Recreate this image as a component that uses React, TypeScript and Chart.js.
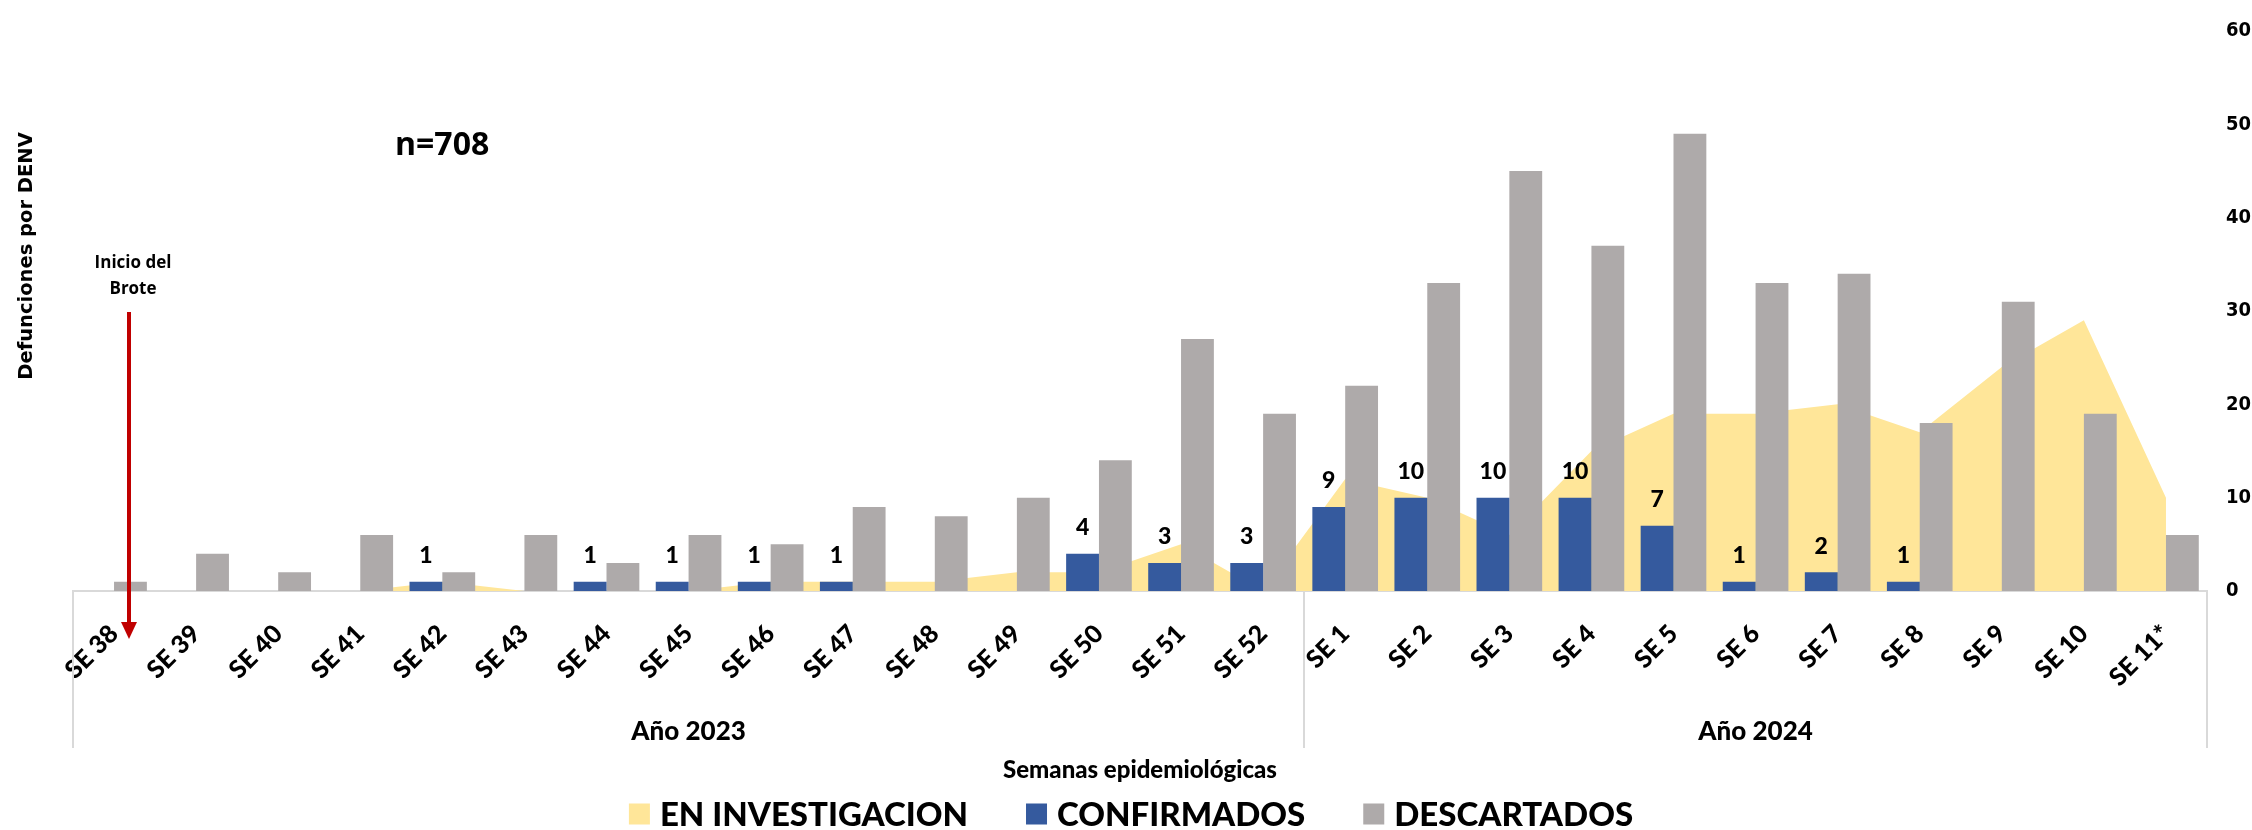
import React, { useEffect, useRef } from 'react';
import { Chart, registerables } from 'chart.js';

Chart.register(...registerables);

// ---------- data ----------
const categories = [
  'SE 38', 'SE 39', 'SE 40', 'SE 41', 'SE 42', 'SE 43', 'SE 44', 'SE 45', 'SE 46', 'SE 47',
  'SE 48', 'SE 49', 'SE 50', 'SE 51', 'SE 52',
  'SE 1', 'SE 2', 'SE 3', 'SE 4', 'SE 5', 'SE 6', 'SE 7', 'SE 8', 'SE 9', 'SE 10', 'SE 11*',
];
const enInvestigacion = [0, 0, 0, 0, 1, 0, 0, 0, 1, 1, 1, 2, 2, 5, 0, 12, 10, 6, 15, 19, 19, 20, 17, 24, 29, 10];
const confirmados = [null, null, null, null, 1, null, 1, 1, 1, 1, null, null, 4, 3, 3, 9, 10, 10, 10, 7, 1, 2, 1, null, null, null];
const descartados = [1, 4, 2, 6, 2, 6, 3, 6, 5, 9, 8, 10, 14, 27, 19, 22, 33, 45, 37, 49, 33, 34, 18, 31, 19, 6];
const seriesLabels = ['EN INVESTIGACION', 'CONFIRMADOS', 'DESCARTADOS'];
const seriesColors = ['#FFE699', '#355A9E', '#AEAAAA'];
const yMin = 0;
const yMax = 60;
const yStep = 10;
const groupLabels = ['Año 2023', 'Año 2024'];
const groupStarts = [0, 15];
const groupEnds = [14, 25];
const yTitle = 'Defunciones por DENV';
const xTitle = 'Semanas epidemiológicas';
const totalText = 'n=708';
const annotationLines = ['Inicio del', 'Brote'];

// ---------- fonts ----------
const CAL = 'Lato, "DejaVu Sans Condensed", sans-serif';
const CW = '900';
const WIDE = '"DejaVu Sans", Verdana, sans-serif';
const COND = '"DejaVu Sans Condensed", "DejaVu Sans", sans-serif';
const OPEN = '"Open Sans", "Noto Sans", sans-serif';

const overlayPlugin = {
  id: 'overlay',
  afterDatasetsDraw(chart: any) {
    const ctx = chart.ctx as CanvasRenderingContext2D;
    const meta = chart.getDatasetMeta(1);
    ctx.save();
    ctx.fillStyle = '#000';
    ctx.font = `${CW} 23px ${CAL}`;
    ctx.textAlign = 'center';
    ctx.textBaseline = 'middle';
    meta.data.forEach((el: any, i: number) => {
      const v = confirmados[i];
      if (v === null || v === undefined) return;
      ctx.fillText(String(v), el.x, el.y - 26);
    });
    ctx.restore();
  },
  afterDraw(chart: any) {
    const ctx = chart.ctx as CanvasRenderingContext2D;
    const area = chart.chartArea;
    const step = (area.right - area.left) / categories.length;
    ctx.save();

    // group separators
    ctx.strokeStyle = '#D9D9D9';
    ctx.lineWidth = 2;
    const sepBottom = 748;
    const seps = [area.left, ...groupStarts.slice(1).map((s) => area.left + s * step), area.right];
    seps.forEach((sx) => {
      ctx.beginPath();
      ctx.moveTo(Math.round(sx), area.bottom);
      ctx.lineTo(Math.round(sx), sepBottom);
      ctx.stroke();
    });

    // group labels
    ctx.fillStyle = '#000';
    ctx.font = `${CW} 26px ${CAL}`;
    ctx.textAlign = 'center';
    ctx.textBaseline = 'middle';
    groupLabels.forEach((g, gi) => {
      const l = area.left + groupStarts[gi] * step;
      const r = area.left + (groupEnds[gi] + 1) * step;
      ctx.fillText(g, (l + r) / 2, 732);
    });

    // y-axis title
    ctx.save();
    ctx.translate(27, 256);
    ctx.rotate(-Math.PI / 2);
    ctx.font = `bold 19.5px ${WIDE}`;
    ctx.fillText(yTitle, 0, 0);
    ctx.restore();

    // n=708
    ctx.font = `bold 32px ${OPEN}`;
    ctx.textAlign = 'left';
    ctx.fillText(totalText, 395, 146);

    // annotation
    ctx.font = `bold 17px ${OPEN}`;
    ctx.textAlign = 'center';
    ctx.fillText(annotationLines[0], 133, 263);
    ctx.fillText(annotationLines[1], 133, 289);

    // red arrow
    const ax = 129;
    ctx.strokeStyle = '#C00000';
    ctx.fillStyle = '#C00000';
    ctx.lineWidth = 4;
    ctx.beginPath();
    ctx.moveTo(ax, 312);
    ctx.lineTo(ax, 624);
    ctx.stroke();
    ctx.beginPath();
    ctx.moveTo(ax - 8, 622);
    ctx.lineTo(ax + 8, 622);
    ctx.lineTo(ax, 639);
    ctx.closePath();
    ctx.fill();

    // legend
    ctx.font = `${CW} 33px ${CAL}`;
    ctx.textAlign = 'left';
    ctx.textBaseline = 'middle';
    const box = 21;
    const gapText = 10;
    const gapItem = 58;
    const widths = seriesLabels.map((t) => box + gapText + ctx.measureText(t).width);
    const total = widths.reduce((a, b) => a + b, 0) + gapItem * (widths.length - 1);
    let lx = 1131 - total / 2;
    const ly = 814;
    seriesLabels.forEach((t, i) => {
      ctx.fillStyle = seriesColors[i];
      ctx.fillRect(lx, ly - box / 2, box, box);
      ctx.fillStyle = '#000';
      ctx.fillText(t, lx + box + gapText, ly + 1);
      lx += widths[i] + gapItem;
    });
    ctx.restore();
  },
};

export default function App() {
  const ref = useRef<HTMLCanvasElement | null>(null);
  useEffect(() => {
    if (!ref.current) return;
    const chart = new Chart(ref.current, {
      type: 'bar',
      data: {
        labels: categories,
        datasets: [
          {
            type: 'line',
            label: seriesLabels[0],
            data: enInvestigacion,
            backgroundColor: seriesColors[0],
            borderColor: seriesColors[0],
            borderWidth: 0,
            pointRadius: 0,
            fill: 'origin',
            tension: 0,
            order: 3,
          } as any,
          {
            type: 'bar',
            label: seriesLabels[1],
            data: confirmados,
            backgroundColor: seriesColors[1],
            categoryPercentage: 0.8,
            barPercentage: 1,
            order: 1,
          },
          {
            type: 'bar',
            label: seriesLabels[2],
            data: descartados,
            backgroundColor: seriesColors[2],
            categoryPercentage: 0.8,
            barPercentage: 1,
            order: 2,
          },
        ],
      },
      options: {
        responsive: false,
        devicePixelRatio: 1,
        animation: false,
        layout: { padding: { left: 73, right: 0, top: 22, bottom: 40 } },
        plugins: {
          legend: { display: false },
          tooltip: { enabled: false },
        },
        scales: {
          x: {
            type: 'category',
            offset: true,
            grid: { display: true, color: 'rgba(0,0,0,0)', drawTicks: false },
            border: { display: true, color: '#D9D9D9', width: 2 },
            ticks: {
              autoSkip: false,
              maxRotation: 45,
              minRotation: 45,
              padding: 28,
              color: '#000',
              font: { family: CAL, size: 25, weight: CW },
            },
            title: {
              display: true,
              text: xTitle,
              color: '#000',
              font: { family: CAL, size: 24, weight: CW },
              padding: { top: 0, bottom: 5 },
            },
            afterFit(scale: any) {
              scale.height = 199;
            },
          },
          y: {
            position: 'right',
            min: yMin,
            max: yMax,
            grid: { display: false, drawTicks: false },
            border: { display: false },
            ticks: {
              stepSize: yStep,
              padding: 19,
              color: '#000',
              font: { family: COND, size: 20, weight: 'bold' },
            },
            afterFit(scale: any) {
              scale.width = 45;
            },
          },
        },
      },
      plugins: [overlayPlugin],
    });
    return () => chart.destroy();
  }, []);

  return (
    <div style={{ position: 'fixed', left: 0, top: 0, width: 2252, height: 830, background: '#fff' }}>
      <canvas ref={ref} width={2252} height={830} style={{ display: 'block', width: 2252, height: 830 }} />
    </div>
  );
}
